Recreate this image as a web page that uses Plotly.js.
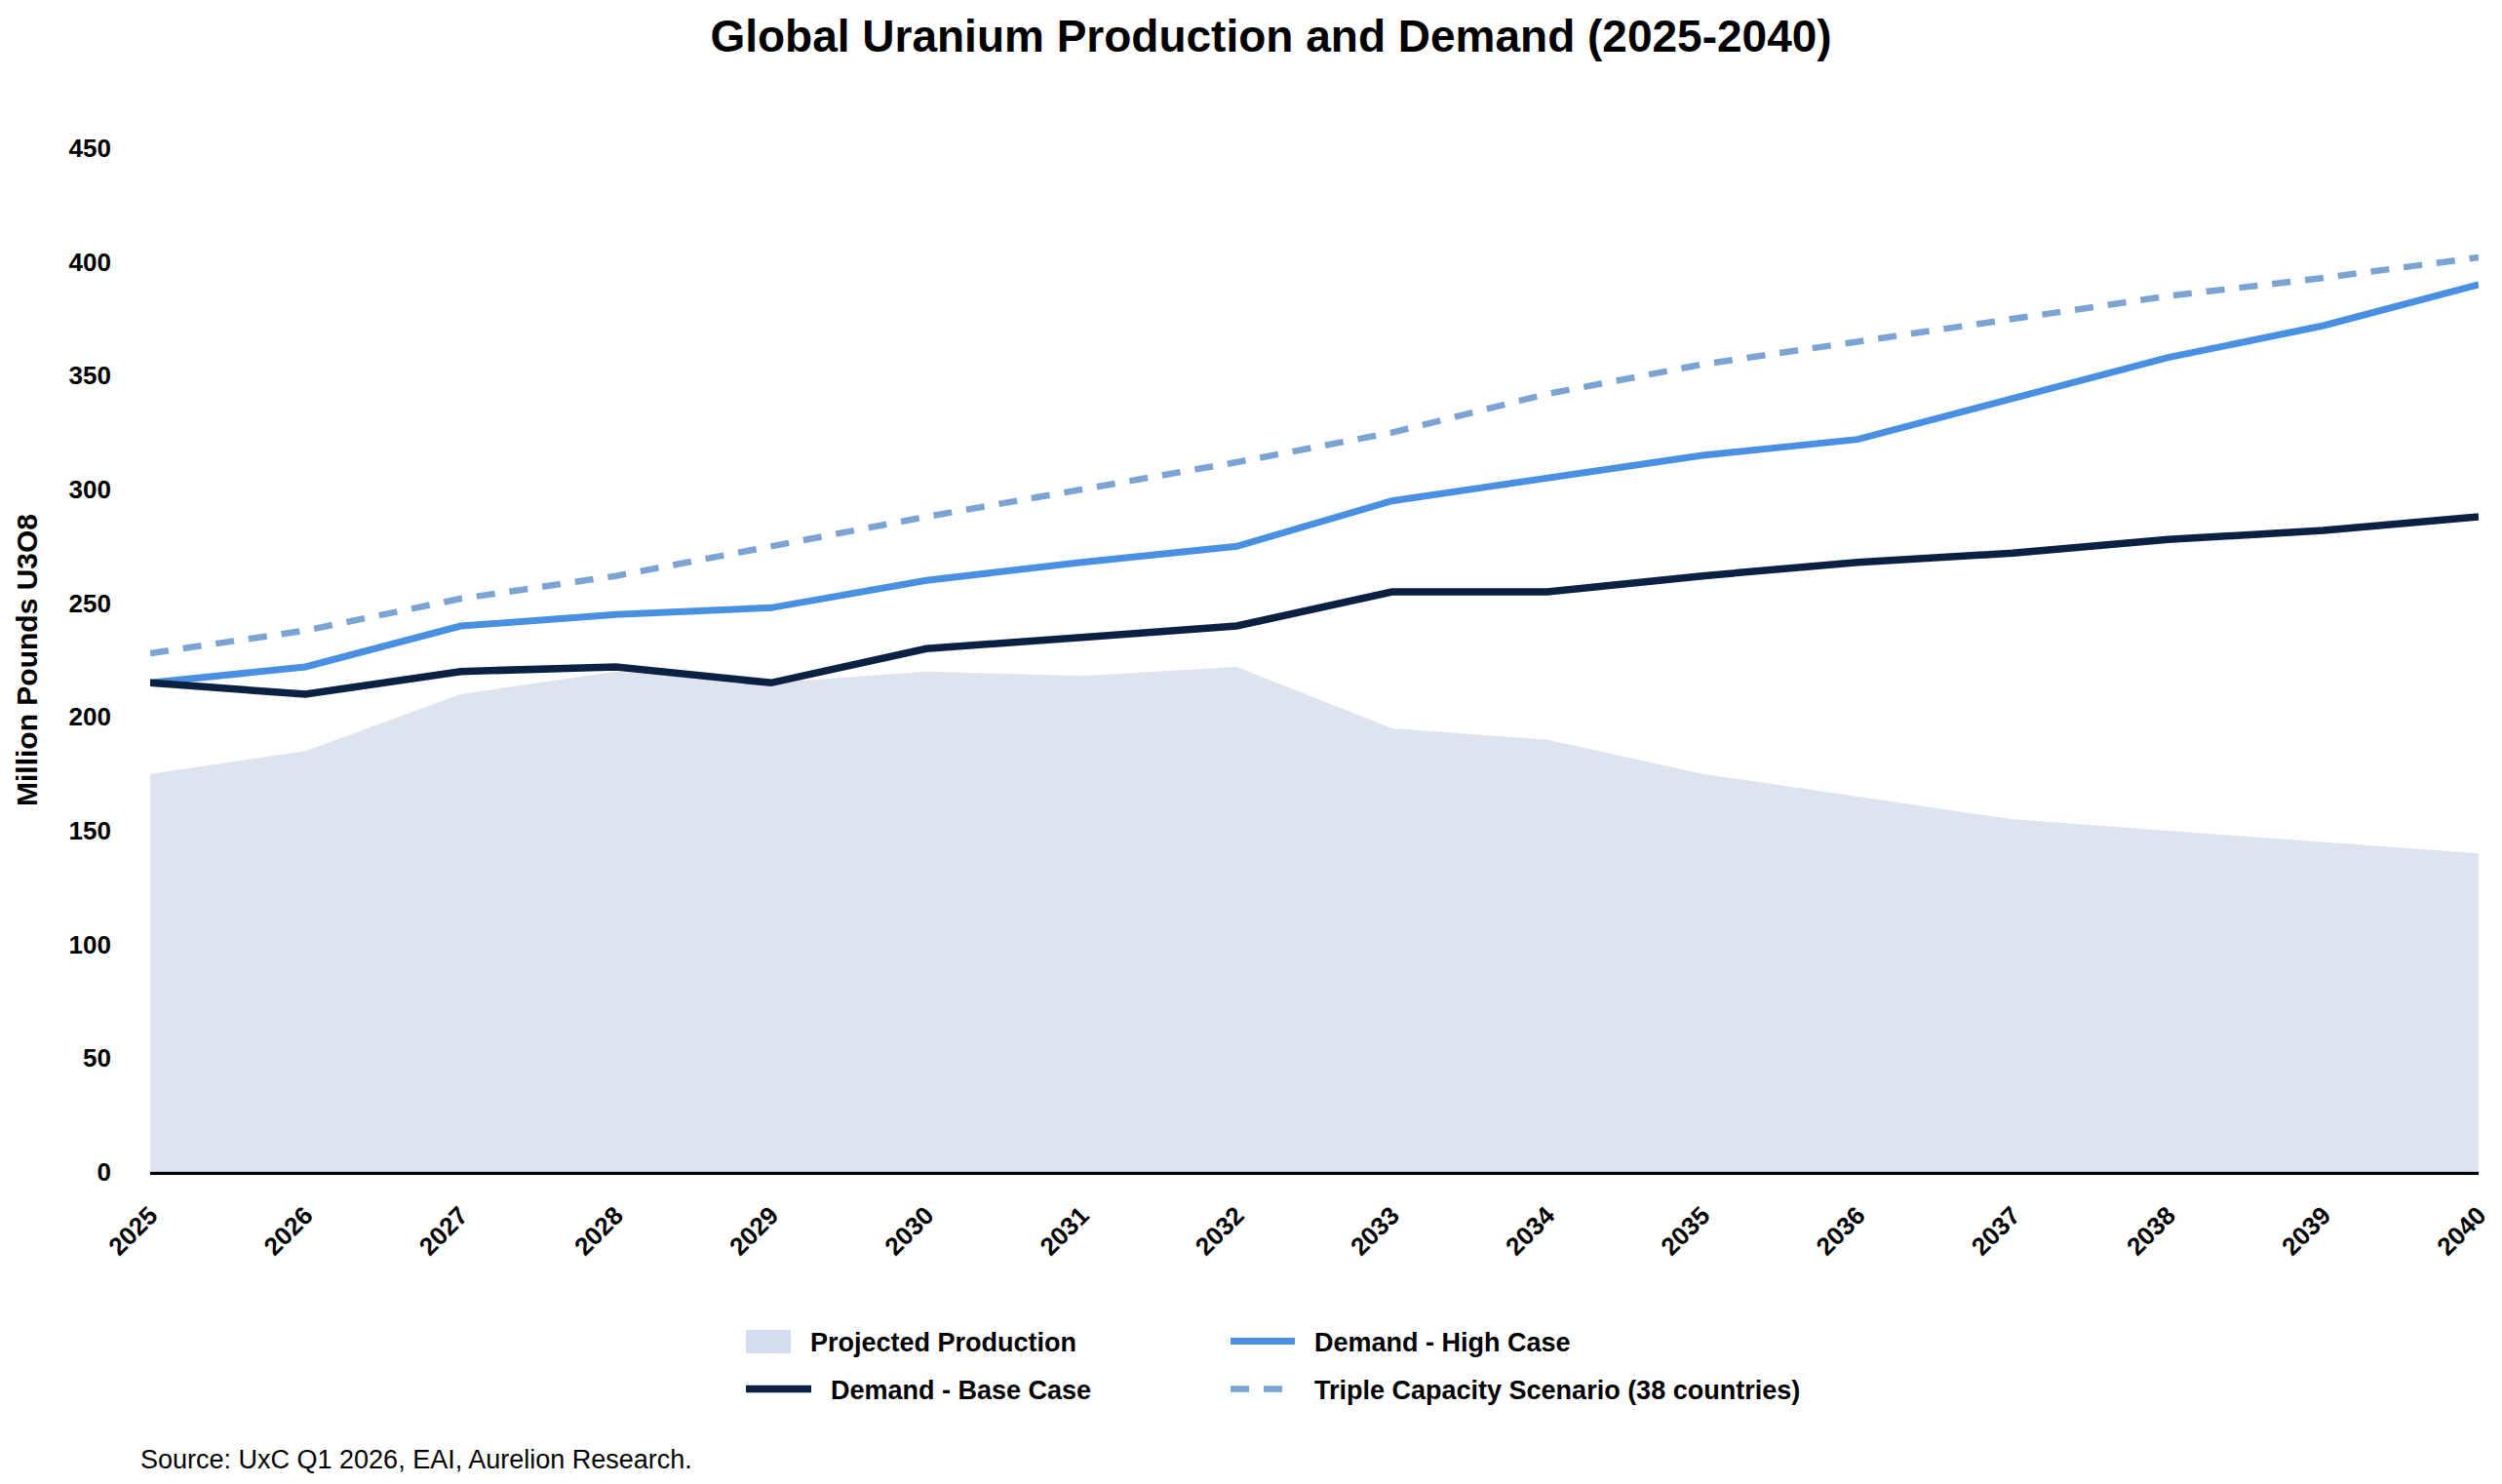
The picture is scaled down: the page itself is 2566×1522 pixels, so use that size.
<!DOCTYPE html>
<html>
<head>
<meta charset="utf-8">
<script src="https://cdn.plot.ly/plotly-3.0.1.min.js"></script>
<style>
  html, body { margin: 0; padding: 0; background: #fff; }
  #chart { width: 2566px; height: 1522px; }
</style>
</head>
<body>
<div id="chart"></div>
<script>
// years on the x axis
let years = [2025, 2026, 2027, 2028, 2029, 2030, 2031, 2032, 2033, 2034, 2035, 2036, 2037, 2038, 2039, 2040];

// million lbs U3O8
let production = [175, 185, 210, 220, 215, 220, 218, 222, 195, 190, 175, 165, 155, 150, 145, 140];
let demandBase = [215, 210, 220, 222, 215, 230, 235, 240, 255, 255, 262, 268, 272, 278, 282, 288];
let demandHigh = [215, 222, 240, 245, 248, 260, 268, 275, 295, 305, 315, 322, 340, 358, 372, 390];
let tripleCap  = [228, 238, 252, 262, 275, 288, 300, 312, 325, 342, 355, 365, 375, 385, 393, 402];

let yTicks = [0, 50, 100, 150, 200, 250, 300, 350, 400, 450];

let fontFam = 'Liberation Sans, Arial, Helvetica, sans-serif';
let gap = '&nbsp;&nbsp;';

// plot box in pixels (used to place the legend keys)
let plotL = 154, plotR = 2542, plotT = 152, plotB = 1202;

var prodTrace = {
    x: years,
    y: production,
    type: 'scatter',
    mode: 'lines',
    name: 'Projected Production',
    fill: 'tozeroy',
    fillcolor: 'rgba(190,200,225,0.5)',
    line: {width: 0, color: 'rgba(190,200,225,0.5)'},
    showlegend: false
};
// legend-only entry; the block swatch is added as a shape below
var prodKey = {
    x: [null],
    y: [null],
    type: 'scatter',
    mode: 'lines',
    name: '<b>' + gap + 'Projected Production</b>',
    line: {width: 10, color: '#d3dfee'},
    legend: 'legend'
};
var highTrace = {
    x: years,
    y: demandHigh,
    type: 'scatter',
    mode: 'lines',
    name: '<b>' + gap + 'Demand - High Case</b>',
    line: {color: '#4a90e2', width: 7},
    legend: 'legend2'
};
var baseTrace = {
    x: years,
    y: demandBase,
    type: 'scatter',
    mode: 'lines',
    name: '<b>' + gap + 'Demand - Base Case</b>',
    line: {color: '#0b2144', width: 7.5},
    legend: 'legend3'
};
var tripleTrace = {
    x: years,
    y: tripleCap,
    type: 'scatter',
    mode: 'lines',
    name: '<b>' + gap + 'Triple Capacity Scenario (38 countries)</b>',
    line: {color: '#7ba3d3', width: 6.5, dash: '19px,15px'},
    legend: 'legend4'
};

function legendAt(left, midY, swatch) {
    return {
        orientation: 'h',
        xref: 'container', x: (left - 5) / 2566, xanchor: 'left',
        yref: 'container', y: 1 - midY / 1522, yanchor: 'middle',
        itemwidth: swatch,
        font: {size: 27, color: '#000'},
        bgcolor: 'rgba(0,0,0,0)',
        borderwidth: 0
    };
}

function px2paperX(px) { return (px - plotL) / (plotR - plotL); }
function px2paperY(py) { return (plotB - py) / (plotB - plotT); }

var layout = {
    width: 2566,
    height: 1522,
    paper_bgcolor: '#fff',
    plot_bgcolor: '#fff',
    font: {family: fontFam, color: '#000', size: 26},
    margin: {l: plotL, r: 2566 - plotR, t: plotT, b: 1522 - plotB},
    title: {
        text: '<b>Global Uranium Production and Demand (2025-2040)</b>',
        font: {family: fontFam, size: 46, color: '#000'},
        xref: 'container', x: 0.508, xanchor: 'center',
        yref: 'container', y: 0.976, yanchor: 'middle'
    },
    xaxis: {
        range: [2025, 2040],
        tickvals: years,
        ticktext: years.map(y => '<b>' + y + '</b>'),
        tickangle: -45,
        ticks: '',
        ticklabelstandoff: 16,
        showgrid: false,
        zeroline: false,
        showline: true,
        linecolor: '#000',
        linewidth: 3,
        tickfont: {size: 26}
    },
    yaxis: {
        range: [0, 450],
        tickvals: yTicks,
        ticktext: yTicks.map(v => '<b>' + v + '</b>'),
        ticks: '',
        ticklabelstandoff: 39,
        showgrid: false,
        zeroline: true,
        zerolinecolor: '#9aa3b0',
        zerolinewidth: 2,
        showline: false,
        tickfont: {size: 26},
        title: {
            text: '<b>Million Pounds U3O8</b>',
            font: {size: 30},
            standoff: 23
        }
    },
    showlegend: true,
    legend: legendAt(765, 1376, 46),
    legend2: legendAt(1262, 1376, 66),
    legend3: legendAt(765, 1425, 67),
    legend4: legendAt(1262, 1425, 66),
    shapes: [{
        // block key for the production area
        type: 'rect',
        xref: 'paper', yref: 'paper',
        x0: px2paperX(765), x1: px2paperX(811),
        y0: px2paperY(1388), y1: px2paperY(1364),
        fillcolor: '#d3dfee',
        line: {width: 0},
        layer: 'above'
    }],
    annotations: [{
        text: 'Source: UxC Q1 2026, EAI, Aurelion Research.',
        xref: 'paper', yref: 'paper',
        x: px2paperX(142), xanchor: 'left',
        y: px2paperY(1497), yanchor: 'middle',
        showarrow: false,
        font: {size: 27, color: '#000'}
    }]
};

Plotly.newPlot('chart', [prodTrace, prodKey, highTrace, baseTrace, tripleTrace], layout, {displayModeBar: false, staticPlot: true});
</script>
</body>
</html>
